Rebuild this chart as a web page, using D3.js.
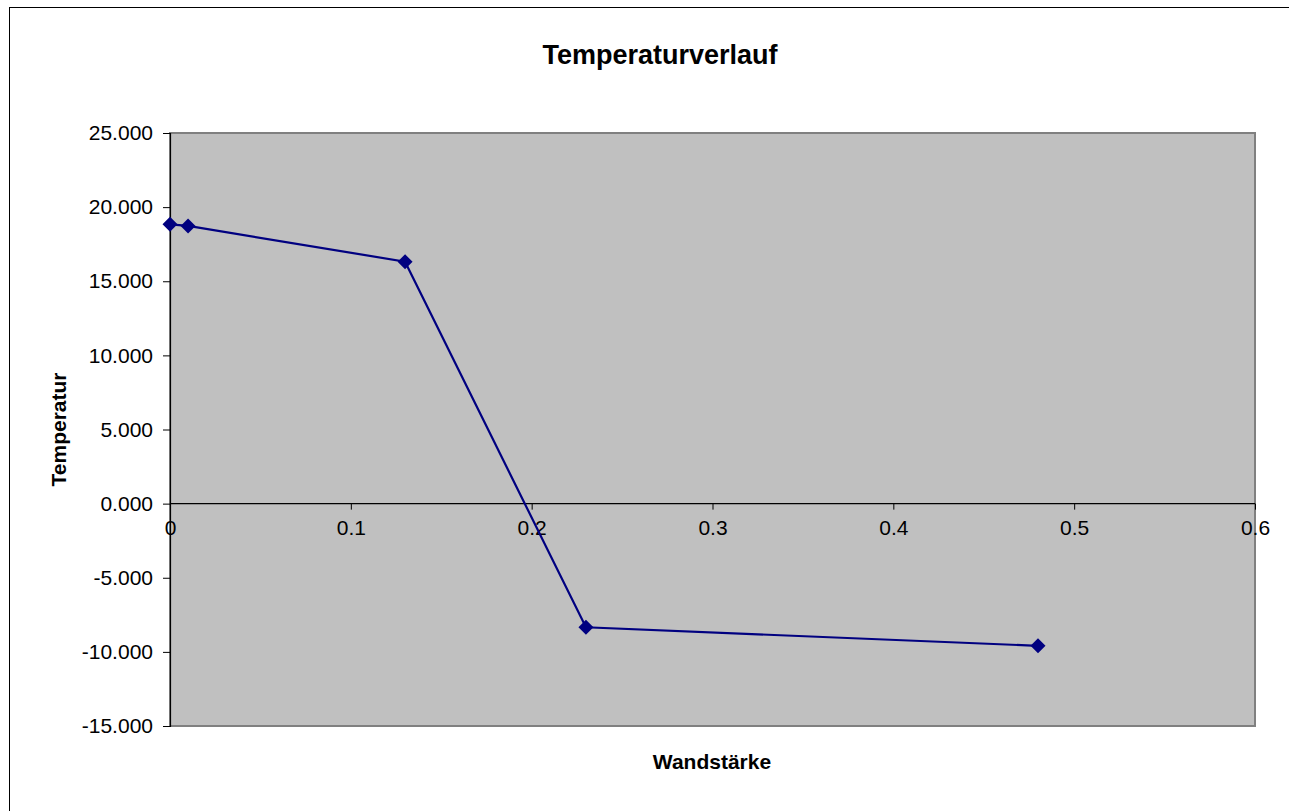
<!DOCTYPE html>
<html><head><meta charset="utf-8">
<script src="https://cdn.jsdelivr.net/npm/d3@7"></script>
<style>html,body{margin:0;padding:0;background:#fff;overflow:hidden;}svg{display:block;font-family:"Liberation Sans",Arial,sans-serif;}</style>
</head><body>
<script>
const wandstaerke = [0, 0.01, 0.13, 0.23, 0.48];
const temperatur = [18.84, 18.73, 16.32, -8.34, -9.59];
const xTicks = [0, 0.1, 0.2, 0.3, 0.4, 0.5, 0.6];
const yTicks = [25, 20, 15, 10, 5, 0, -5, -10, -15];
const title = "Temperaturverlauf";
const xTitle = "Wandstärke";
const yTitle = "Temperatur";

const W = 1289, H = 811;
const L = 170, R = 1255, T = 133, B = 726;
const svg = d3.select("body").append("svg").attr("width", W).attr("height", H);

svg.append("rect").attr("x", 9.5).attr("y", 7.5).attr("width", 1400).attr("height", 900)
  .attr("fill", "#fff").attr("stroke", "#000").attr("stroke-width", 1);

const x = d3.scaleLinear().domain([0, 0.6]).range([L, R]);
const y = d3.scaleLinear().domain([-15, 25]).range([B, T]);

svg.append("rect").attr("x", L).attr("y", T).attr("width", R - L).attr("height", B - T)
  .attr("fill", "#c0c0c0").attr("stroke", "#808080").attr("stroke-width", 2);

// Y axis
const yAxis = svg.append("g").attr("transform", `translate(${L},0)`)
  .call(d3.axisLeft(y).tickValues(yTicks).tickSize(7).tickPadding(10).tickFormat(d => d.toFixed(3)));
yAxis.select(".domain").attr("stroke", "#000").attr("stroke-width", 1.2);
yAxis.selectAll("text").attr("font-size", 21).attr("fill", "#000").attr("font-family", "Liberation Sans, Arial, sans-serif");

// X axis at zero
const xAxis = svg.append("g").attr("transform", `translate(0,${y(0)})`)
  .call(d3.axisBottom(x).tickValues(xTicks).tickSize(6).tickPadding(19).tickFormat(d => String(d)));
xAxis.select(".domain").attr("stroke", "#000").attr("stroke-width", 1.2).attr("d", `M${L},0H${R}`);
xAxis.selectAll("text").attr("font-size", 21).attr("fill", "#000").attr("font-family", "Liberation Sans, Arial, sans-serif").attr("dy", "0.32em");

const pts = wandstaerke.map((v, i) => [v, temperatur[i]]);
svg.append("path").datum(pts)
  .attr("fill", "none").attr("stroke", "#000080").attr("stroke-width", 2.2)
  .attr("d", d3.line().x(d => x(d[0])).y(d => y(d[1])));

svg.append("g").selectAll("path").data(pts).join("path")
  .attr("transform", d => `translate(${x(d[0])},${y(d[1])})`)
  .attr("d", "M0,-7.5L7.5,0L0,7.5L-7.5,0Z").attr("fill", "#000080");

svg.append("text").attr("x", 660).attr("y", 64).attr("text-anchor", "middle")
  .attr("font-weight", "bold").attr("font-size", 27).text(title);
svg.append("text").attr("x", 712).attr("y", 769).attr("text-anchor", "middle")
  .attr("font-weight", "bold").attr("font-size", 21).text(xTitle);
svg.append("text").attr("transform", `translate(66,${(T + B) / 2}) rotate(-90)`).attr("text-anchor", "middle")
  .attr("font-weight", "bold").attr("font-size", 21).text(yTitle);
</script>
</body></html>
